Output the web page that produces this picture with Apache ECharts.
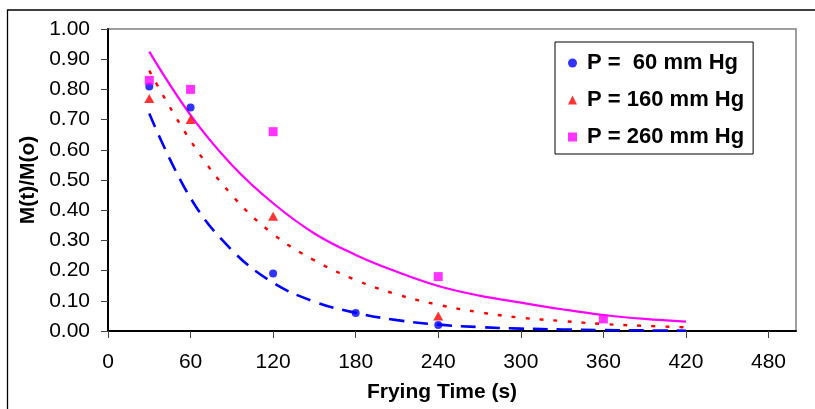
<!DOCTYPE html>
<html>
<head>
<meta charset="utf-8">
<script src="https://cdn.jsdelivr.net/npm/echarts@6/dist/echarts.min.js"></script>
<style>
html,body{margin:0;padding:0;background:#fff;}
#c{width:815px;height:409px;}
</style>
</head>
<body>
<div id="c"></div>
<script>
// ---- data ----
const seriesNames = ['P =  60 mm Hg', 'P = 160 mm Hg', 'P = 260 mm Hg'];
const xTicks = [0, 60, 120, 180, 240, 300, 360, 420, 480];

// measured points
const t60 = [30, 60, 120, 180, 240];
const m60 = [0.81, 0.74, 0.19, 0.06, 0.02];
const t160 = [30, 60, 120, 240];
const m160 = [0.77, 0.70, 0.38, 0.05];
const t260 = [30, 60, 120, 240, 360];
const m260 = [0.83, 0.80, 0.66, 0.18, 0.04];

// fitted curves
const fitT = [30, 60, 90, 120, 150, 180, 210, 240, 270, 300, 330, 360, 390, 420];
const fit60 = [0.72, 0.44, 0.268, 0.160, 0.097, 0.060, 0.036, 0.021, 0.013, 0.008, 0.005, 0.003, 0.002, 0.001];
const fit160 = [0.862, 0.630, 0.450, 0.321, 0.234, 0.169, 0.121, 0.087, 0.062, 0.044, 0.033, 0.023, 0.017, 0.012];
const fit260 = [0.925, 0.715, 0.550, 0.423, 0.323, 0.252, 0.196, 0.149, 0.117, 0.094, 0.072, 0.053, 0.040, 0.031];

const FONT = "'Liberation Sans', Arial, sans-serif";
const pairs = (xs, ys) => xs.map((x, i) => [x, ys[i]]);

const chart = echarts.init(document.getElementById('c'), null, {renderer: 'canvas'});
chart.setOption({
  animation: false,
  backgroundColor: '#fff',
  textStyle: {fontFamily: FONT},
  graphic: [{
    type: 'rect', silent: true, z: -1,
    shape: {x: 7.5, y: 10, width: 1200, height: 1200},
    style: {fill: 'none', stroke: '#000', lineWidth: 1.3}
  }],
  grid: {left: 108, top: 29, right: 19, bottom: 78, show: true, borderColor: '#808080', borderWidth: 1.5, backgroundColor: 'transparent'},
  legend: {
    orient: 'vertical', left: 555, top: 42,
    padding: [9, 9, 5, 13],
    itemGap: 13, itemWidth: 9, itemHeight: 9,
    backgroundColor: '#fff', borderColor: '#000', borderWidth: 1,
    textStyle: {fontFamily: FONT, fontSize: 22, fontWeight: 'bold', color: '#000', lineHeight: 24, padding: [0, 0, 0, 5]},
    data: [
      {name: seriesNames[0], icon: 'circle'},
      {name: seriesNames[1], icon: 'triangle'},
      {name: seriesNames[2], icon: 'rect'}
    ]
  },
  xAxis: {
    type: 'value', min: 0, max: 500, interval: 60,
    name: 'Frying Time (s)', nameLocation: 'middle', nameGap: 51,
    nameTextStyle: {fontFamily: FONT, fontSize: 21, fontWeight: 'bold', color: '#000', padding: [0, 20, 0, 0]},
    axisLine: {lineStyle: {color: '#000', width: 2}},
    axisTick: {show: true, length: 7, lineStyle: {color: '#444', width: 1}, customValues: xTicks},
    axisLabel: {fontFamily: FONT, fontSize: 21, color: '#000', margin: 21, customValues: xTicks},
    splitLine: {show: false}
  },
  yAxis: {
    type: 'value', min: 0, max: 1, interval: 0.1,
    name: 'M(t)/M(o)', nameLocation: 'middle', nameGap: 68,
    nameTextStyle: {fontFamily: FONT, fontSize: 21, fontWeight: 'bold', color: '#000'},
    axisLine: {show: true, lineStyle: {color: '#000', width: 2}},
    axisTick: {show: true, length: 7, lineStyle: {color: '#444', width: 1}},
    axisLabel: {fontFamily: FONT, fontSize: 21, color: '#000', margin: 18, formatter: v => v.toFixed(2)},
    splitLine: {show: false}
  },
  series: [
    {type: 'line', name: 'fit60', data: pairs(fitT, fit60), smooth: 0.4, showSymbol: false, z: 2,
     lineStyle: {color: '#0000FF', width: 2.6, type: [15, 9]}},
    {type: 'line', name: 'fit160', data: pairs(fitT, fit160), smooth: 0.4, showSymbol: false, z: 2,
     lineStyle: {color: '#FF0000', width: 2.4, type: [4, 10]}},
    {type: 'line', name: 'fit260', data: pairs(fitT, fit260), smooth: 0.4, showSymbol: false, z: 2,
     lineStyle: {color: '#FF00FF', width: 2.2}},
    {type: 'scatter', name: seriesNames[0], data: pairs(t60, m60), symbol: 'circle', symbolSize: 8, z: 3,
     itemStyle: {color: '#0000FF'}},
    {type: 'scatter', name: seriesNames[1], data: pairs(t160, m160), symbol: 'triangle', symbolSize: [10, 9], z: 3,
     itemStyle: {color: '#FF0000'}},
    {type: 'scatter', name: seriesNames[2], data: pairs(t260, m260), symbol: 'rect', symbolSize: 9, z: 3,
     itemStyle: {color: '#FF00FF'}}
  ]
});
</script>
</body>
</html>
